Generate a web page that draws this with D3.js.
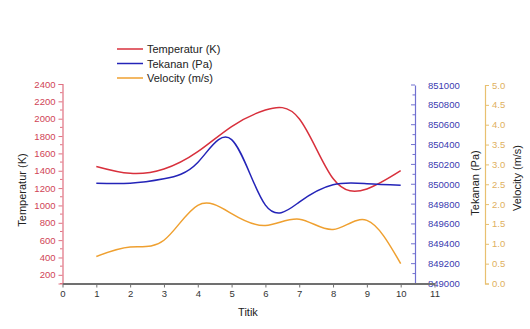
<!DOCTYPE html>
<html>
<head>
<meta charset="utf-8">
<script src="https://cdn.jsdelivr.net/npm/d3@7"></script>
<style>
  body { margin: 0; background: #fff; }
  svg { display: block; font-family: "Liberation Sans", Arial, sans-serif; }
</style>
</head>
<body>
<svg id="chart" width="530" height="329"></svg>
<script>
// data
const titik = [1, 2, 3, 4, 5, 6, 7, 8, 9, 10];
const temperatur = [1450, 1370, 1420, 1620, 1910, 2100, 2000, 1310, 1190, 1400];
const tekanan = [850010, 850010, 850055, 850220, 850450, 849790, 849820, 849995, 850005, 849990];
const velocity = [0.68, 0.92, 1.09, 1.97, 1.76, 1.46, 1.62, 1.36, 1.59, 0.50];

const legendNames = ["Temperatur (K)", "Tekanan (Pa)", "Velocity (m/s)"];

const redLine = "#d8303c";
const blueLine = "#2424b8";
const orangeLine = "#efa030";
const redText = "#d04456";
const blueText = "#3a3ab0";
const orangeText = "#e0b060";

const svg = d3.select("#chart");

const x = d3.scaleLinear().domain([0, 11]).range([62.5, 434.5]);
const yT = d3.scaleLinear().domain([100, 2400]).range([283.5, 84]);
const yP = d3.scaleLinear().domain([849000, 851000]).range([283.5, 85]);
const yV = d3.scaleLinear().domain([0, 5]).range([283.5, 85]);

const blueAxisX = 415;
const orangeAxisX = 485;

// minor ticks helper
function minorTicks(g, scale, values, len, color) {
    g.selectAll(null)
        .data(values)
        .join("line")
        .attr("x1", 0).attr("x2", len)
        .attr("y1", d => scale(d)).attr("y2", d => scale(d))
        .attr("stroke", color);
}

// left axis
const gL = svg.append("g").attr("transform", "translate(62.5,0)");
gL.call(d3.axisLeft(yT).tickValues(d3.range(200, 2401, 200)).tickSize(4).tickPadding(3)
    .tickFormat(d3.format("d")));
gL.select(".domain").attr("stroke", "#e07080").attr("stroke-width", 1.2);
gL.selectAll(".tick line").attr("stroke", "#e07080");
gL.selectAll(".tick text").attr("fill", redText).attr("font-size", 9.5)
    .attr("font-family", "Liberation Sans, Arial, sans-serif");
minorTicks(gL, yT, d3.range(100, 2400, 200), -2.5, "#e07080");

// blue right axis (ticks inside, labels right)
const gP = svg.append("g").attr("transform", `translate(${blueAxisX},0)`);
gP.call(d3.axisRight(yP).tickValues(d3.range(849000, 851001, 200)).tickSize(0).tickPadding(13)
    .tickFormat(d3.format("d")));
gP.select(".domain").attr("stroke", "#7070d0").attr("stroke-width", 1.2);
gP.selectAll(".tick text").attr("fill", blueText).attr("font-size", 9.5)
    .attr("font-family", "Liberation Sans, Arial, sans-serif");
minorTicks(gP, yP, d3.range(849000, 851001, 200), -4, "#7070d0");
minorTicks(gP, yP, d3.range(849100, 851000, 200), -2.5, "#7070d0");

// orange right axis
const gV = svg.append("g").attr("transform", `translate(${orangeAxisX},0)`);
gV.call(d3.axisRight(yV).tickValues(d3.range(0, 5.01, 0.5)).tickSize(4).tickPadding(3)
    .tickFormat(d3.format(".1f")));
gV.select(".domain").attr("stroke", "#e8c070").attr("stroke-width", 1.2);
gV.selectAll(".tick line").attr("stroke", "#e8c070");
gV.selectAll(".tick text").attr("fill", orangeText).attr("font-size", 9.5)
    .attr("font-family", "Liberation Sans, Arial, sans-serif");

// x axis
const gX = svg.append("g").attr("transform", "translate(0,283.5)");
gX.call(d3.axisBottom(x).ticks(11).tickSize(4).tickPadding(3).tickSizeOuter(0));
gX.select(".domain").attr("stroke", "#707070").attr("stroke-width", 2);
gX.selectAll(".tick line").attr("stroke", "#707070");
gX.selectAll(".tick text").attr("fill", "#333").attr("font-size", 9.5)
    .attr("font-family", "Liberation Sans, Arial, sans-serif");

// lines
const series = [
    { values: temperatur, y: yT, color: redLine },
    { values: tekanan, y: yP, color: blueLine },
    { values: velocity, y: yV, color: orangeLine }
];
series.forEach(s => {
    const line = d3.line()
        .x((d, i) => x(titik[i]))
        .y(d => s.y(d))
        .curve(d3.curveNatural);
    svg.append("path")
        .datum(s.values)
        .attr("d", line)
        .attr("fill", "none")
        .attr("stroke", s.color)
        .attr("stroke-width", 1.5);
});

// axis titles
svg.append("text")
    .attr("transform", "translate(26,190) rotate(-90)")
    .attr("text-anchor", "middle").attr("font-size", 11).attr("fill", "#222")
    .text("Temperatur (K)");
svg.append("text")
    .attr("transform", "translate(479,183) rotate(-90)")
    .attr("text-anchor", "middle").attr("font-size", 11).attr("fill", "#222")
    .text("Tekanan (Pa)");
svg.append("text")
    .attr("transform", "translate(521,178) rotate(-90)")
    .attr("text-anchor", "middle").attr("font-size", 11).attr("fill", "#222")
    .text("Velocity (m/s)");
svg.append("text")
    .attr("x", 248).attr("y", 316)
    .attr("text-anchor", "middle").attr("font-size", 11).attr("fill", "#222")
    .text("Titik");

// legend
const legend = svg.append("g");
legendNames.forEach((name, i) => {
    const yy = 49 + i * 14.5;
    legend.append("line")
        .attr("x1", 117).attr("x2", 143)
        .attr("y1", yy).attr("y2", yy)
        .attr("stroke", series[i].color).attr("stroke-width", 1.5);
    legend.append("text")
        .attr("x", 147).attr("y", yy + 4)
        .attr("font-size", 11).attr("fill", "#222")
        .text(name);
});
</script>
</body>
</html>
